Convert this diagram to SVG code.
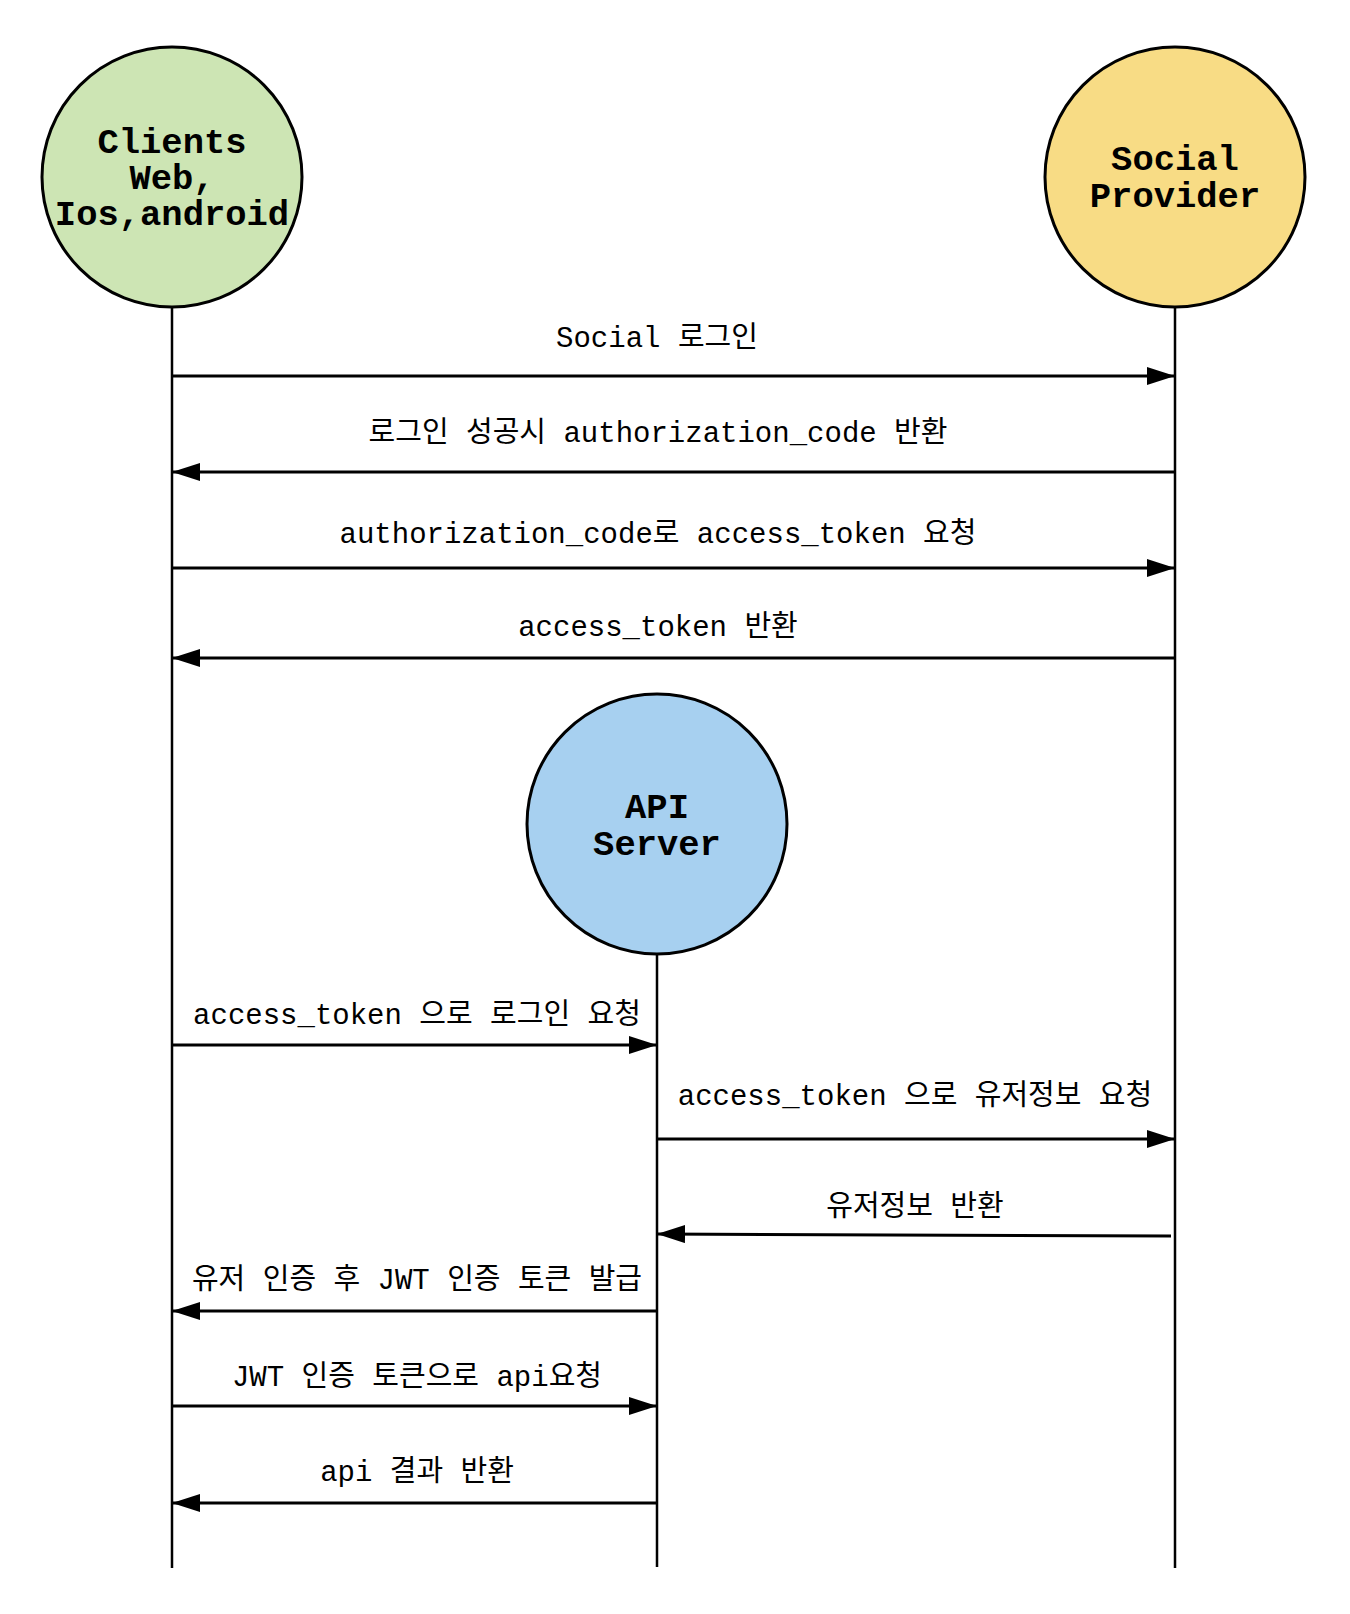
<svg xmlns="http://www.w3.org/2000/svg" width="1350" height="1614" viewBox="0 0 1350 1614">
<style>
.bg{fill:#ffffff}
.node{stroke:#000;stroke-width:3}
.life{stroke:#000;stroke-width:2.5;fill:none}
.msg{stroke:#000;stroke-width:3;fill:none;marker-end:url(#ah)}
.nt{font-family:"Liberation Mono","Noto Sans CJK KR",monospace;font-weight:bold;font-size:35.5px;fill:#000;text-anchor:middle}
.lbl{font-family:"Liberation Mono","Noto Sans CJK KR",monospace;font-size:29px;fill:#000;text-anchor:middle}
</style>
<defs>
<marker id="ah" markerWidth="28" markerHeight="18" refX="28" refY="9" orient="auto" markerUnits="userSpaceOnUse">
<path d="M0,0 L28,9 L0,18 z" fill="#000"/>
</marker>
</defs>
<rect class="bg" x="0" y="0" width="1350" height="1614"/>
<g id="lifelines">
<line class="life" x1="172" y1="307" x2="172" y2="1568"/>
<line class="life" x1="1175" y1="307" x2="1175" y2="1568"/>
<line class="life" x1="657" y1="954" x2="657" y2="1567"/>
</g>
<g id="node-clients">
<circle class="node" cx="172" cy="177" r="130" fill="#cde5b4"/>
<text class="nt" x="172" y="153">Clients</text>
<text class="nt" x="172" y="189">Web,</text>
<text class="nt" x="172" y="225">Ios,android</text>
</g>
<g id="node-social">
<circle class="node" cx="1175" cy="177" r="130" fill="#f8dc85"/>
<text class="nt" x="1175" y="170">Social</text>
<text class="nt" x="1175" y="207">Provider</text>
</g>
<g id="node-api">
<circle class="node" cx="657" cy="824" r="130" fill="#a7d0f0"/>
<text class="nt" x="657" y="818">API</text>
<text class="nt" x="657" y="855">Server</text>
</g>
<g id="connectors">
<line class="msg" x1="172" y1="376" x2="1175" y2="376"/>
<line class="msg" x1="1175" y1="472" x2="172" y2="472"/>
<line class="msg" x1="172" y1="568" x2="1175" y2="568"/>
<line class="msg" x1="1175" y1="658" x2="172" y2="658"/>
<line class="msg" x1="172" y1="1045" x2="657" y2="1045"/>
<line class="msg" x1="657" y1="1139" x2="1175" y2="1139"/>
<line class="msg" x1="1171" y1="1236" x2="657" y2="1234"/>
<line class="msg" x1="657" y1="1311" x2="172" y2="1311"/>
<line class="msg" x1="172" y1="1406" x2="657" y2="1406"/>
<line class="msg" x1="657" y1="1503" x2="172" y2="1503"/>
</g>
<g id="labels">
<text class="lbl" x="657" y="347">Social 로그인</text>
<text class="lbl" x="658" y="442">로그인 성공시 authorization_code 반환</text>
<text class="lbl" x="658" y="543">authorization_code로 access_token 요청</text>
<text class="lbl" x="658" y="636">access_token 반환</text>
<text class="lbl" x="417" y="1024">access_token 으로 로그인 요청</text>
<text class="lbl" x="915" y="1105">access_token 으로 유저정보 요청</text>
<text class="lbl" x="915" y="1216">유저정보 반환</text>
<text class="lbl" x="417" y="1289">유저 인증 후 JWT 인증 토큰 발급</text>
<text class="lbl" x="417" y="1386">JWT 인증 토큰으로 api요청</text>
<text class="lbl" x="417" y="1481">api 결과 반환</text>
</g>
</svg>
